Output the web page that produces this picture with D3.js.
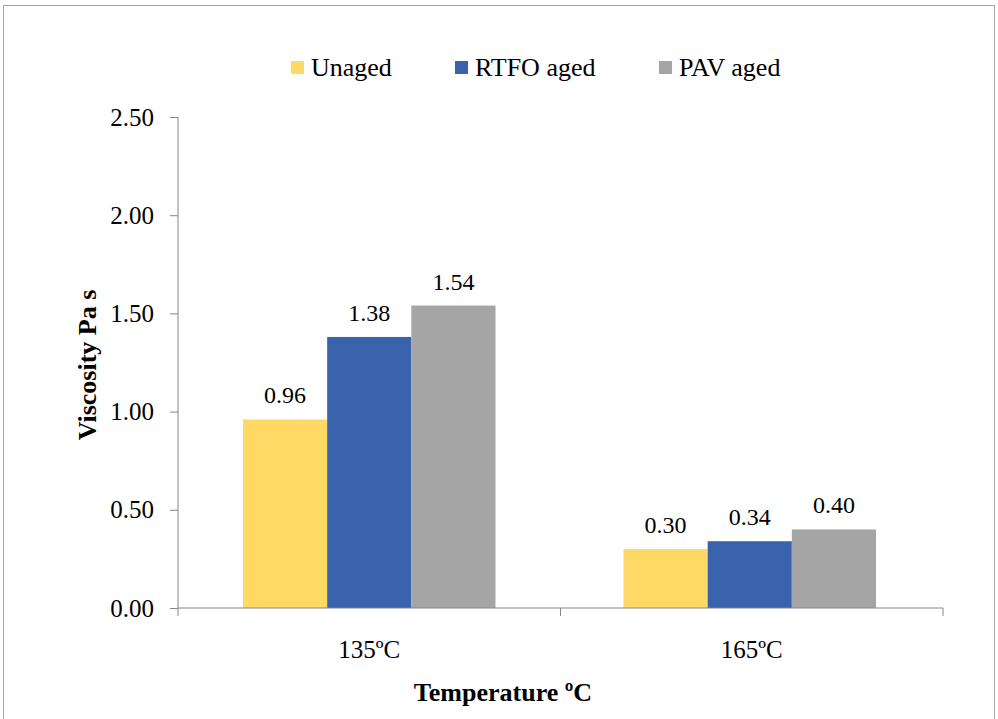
<!DOCTYPE html>
<html><head><meta charset="utf-8">
<script src="https://cdn.jsdelivr.net/npm/d3@7"></script>
<style>body{margin:0;background:#fff}svg{display:block}
svg text{font-family:"Liberation Serif","Times New Roman",Tinos,"DejaVu Serif",serif;}</style>
</head><body>
<script>
const categories = ["135ºC", "165ºC"];
const seriesNames = ["Unaged", "RTFO aged", "PAV aged"];
const unaged = [0.96, 0.30];
const rtfo = [1.38, 0.34];
const pav = [1.54, 0.40];
const seriesColors = ["#FFD966", "#3A63AD", "#A5A5A5"];
const yTicks = [0, 0.5, 1.0, 1.5, 2.0, 2.5];

(function () {
const W = 998, H = 719;
const svg = d3.select("body").append("svg").attr("width", W).attr("height", H);

svg.append("rect").attr("x", 3.5).attr("y", 5.5).attr("width", 991).attr("height", 720)
  .attr("fill", "none").attr("stroke", "#a6a6a6").attr("stroke-width", 1);

const pLeft = 178, pRight = 943, pTop = 117, pBottom = 608;
const x0 = d3.scaleBand().domain(categories).range([pLeft, pRight]).padding(0);
const gap = 65;
const x1 = d3.scaleBand().domain(seriesNames).range([gap, x0.bandwidth() - gap]).padding(0);
const y = d3.scaleLinear().domain([0, 2.5]).range([pBottom, pTop]);

const seriesData = [unaged, rtfo, pav];

categories.forEach((c, ci) => {
  const g = svg.append("g").attr("transform", `translate(${x0(c) - ci * 2},0)`);
  seriesNames.forEach((s, si) => {
    const v = seriesData[si][ci];
    g.append("rect").attr("x", x1(s)).attr("y", y(v)).attr("width", x1.bandwidth())
      .attr("height", y(0) - y(v)).attr("fill", seriesColors[si]);
    g.append("text").attr("x", x1(s) + x1.bandwidth() / 2).attr("y", y(v) - 16)
      .attr("text-anchor", "middle").attr("font-size", 24)
      .attr("fill", "#000").text(v.toFixed(2));
  });
});

const yAxis = d3.axisLeft(y).tickValues(yTicks).tickFormat(d3.format(".2f")).tickSize(8).tickPadding(16);
const ya = svg.append("g").attr("transform", `translate(${pLeft},0)`).call(yAxis);
ya.attr("font-family", null);
ya.selectAll("path,line").attr("stroke", "#868686");
ya.select(".domain").attr("d", `M0,${pTop}V${pBottom}`);
ya.selectAll("text").attr("font-size", 25).attr("fill", "#000");

const xa = svg.append("g").attr("transform", `translate(0,${pBottom})`);
xa.append("line").attr("x1", pLeft).attr("x2", pRight).attr("stroke", "#868686");
const xb = [pLeft, ...categories.map(c => x0(c) + x0.bandwidth())];
xb.forEach(v => xa.append("line").attr("x1", v).attr("x2", v).attr("y1", 0).attr("y2", 8).attr("stroke", "#868686"));
categories.forEach(c => xa.append("text").attr("x", x0(c) + x0.bandwidth() / 2).attr("y", 50)
  .attr("text-anchor", "middle").attr("font-size", 25).attr("fill", "#000").text(c));

svg.append("text").attr("x", 503).attr("y", 701).attr("text-anchor", "middle")
  .attr("font-size", 26).attr("font-weight", "bold").text("Temperature ºC");
svg.append("text").attr("transform", "translate(96,365) rotate(-90)").attr("text-anchor", "middle")
  .attr("font-size", 26).attr("font-weight", "bold").text("Viscosity Pa s");

const legX = [291, 455, 659];
seriesNames.forEach((s, i) => {
  svg.append("rect").attr("x", legX[i]).attr("y", 61).attr("width", 13).attr("height", 13).attr("fill", seriesColors[i]);
  svg.append("text").attr("x", legX[i] + 20).attr("y", 76).attr("font-size", 26)
    .attr("fill", "#000").text(s);
});
})();
</script>
</body></html>
